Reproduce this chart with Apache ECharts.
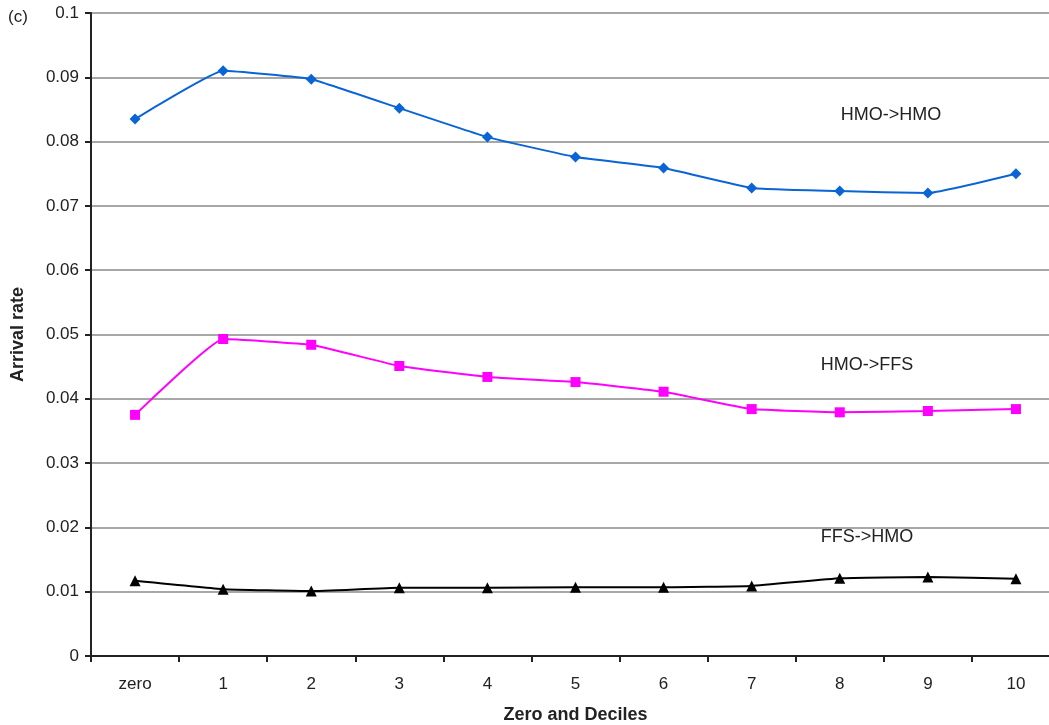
<!DOCTYPE html>
<html>
<head>
<meta charset="utf-8">
<script src="https://cdn.jsdelivr.net/npm/echarts@6/dist/echarts.min.js"></script>
<style>
  html, body { margin: 0; padding: 0; background: #fff; }
  #chart { width: 1049px; height: 725px; }
</style>
</head>
<body>
<div id="chart"></div>
<script>
// Arrival rates by decile group
const categories = ['zero', '1', '2', '3', '4', '5', '6', '7', '8', '9', '10'];
const hmoToHmo = [0.0835, 0.0910, 0.0897, 0.0852, 0.0807, 0.0776, 0.0759, 0.0728, 0.0723, 0.0720, 0.0750];
const hmoToFfs = [0.0375, 0.0493, 0.0484, 0.0451, 0.0434, 0.0426, 0.0411, 0.0384, 0.0379, 0.0381, 0.0384];
const ffsToHmo = [0.0117, 0.0104, 0.0101, 0.0106, 0.0106, 0.0107, 0.0107, 0.0109, 0.0121, 0.0123, 0.0120];
const yTicks = { min: 0, max: 0.1, interval: 0.01 };

const font = 'Liberation Sans, Arial, sans-serif';
const chart = echarts.init(document.getElementById('chart'));

// Series name is written as a text tag next to its curve
function lineSeries(name, data, color, symbol, size, tagX, tagY) {
  return {
    name: name,
    type: 'line',
    data: data,
    smooth: 0.1,
    symbol: symbol,
    symbolSize: size,
    itemStyle: { color: color },
    lineStyle: { color: color, width: 2 },
    z: 3,
    markPoint: {
      symbol: 'rect',
      symbolSize: 1,
      itemStyle: { color: 'rgba(0,0,0,0)' },
      data: [{ x: tagX, y: tagY, name: name }],
      label: {
        show: true, position: 'inside', color: '#222',
        fontSize: 18, fontFamily: font, formatter: name
      }
    }
  };
}

chart.setOption({
  animation: false,
  backgroundColor: '#fff',
  // the plot runs past the right edge of the canvas
  grid: { left: 91, right: -11, top: 13, bottom: 69, outerBoundsMode: 'none', containLabel: false },
  graphic: [{
    type: 'text', left: 8, top: 9,
    style: { text: '(c)', fontSize: 17, fontFamily: font, fill: '#222' }
  }],
  xAxis: {
    type: 'category',
    data: categories,
    boundaryGap: true,
    name: 'Zero and Deciles',
    nameLocation: 'middle',
    nameGap: 50,
    nameTextStyle: { fontSize: 18, fontWeight: 'bold', fontFamily: font, color: '#222' },
    axisLine: { lineStyle: { color: '#222', width: 2 } },
    axisTick: { show: true, alignWithLabel: false, length: 6, lineStyle: { color: '#222', width: 2 } },
    axisLabel: { fontSize: 17, fontFamily: font, color: '#222', margin: 20 },
    splitLine: { show: false }
  },
  yAxis: {
    type: 'value',
    min: yTicks.min, max: yTicks.max, interval: yTicks.interval,
    name: 'Arrival rate',
    nameLocation: 'middle',
    nameGap: 64,
    nameTextStyle: { fontSize: 18, fontWeight: 'bold', fontFamily: font, color: '#222' },
    axisLine: { show: true, lineStyle: { color: '#222', width: 2 } },
    axisTick: { show: true, length: 6, lineStyle: { color: '#222', width: 2 } },
    axisLabel: {
      fontSize: 17, fontFamily: font, color: '#222', margin: 12,
      formatter: v => (Math.round(v * 100) / 100).toString()
    },
    splitLine: { show: true, lineStyle: { color: '#8a8a8a', width: 1.5 } }
  },
  series: [
    lineSeries('HMO->HMO', hmoToHmo, '#0a64d6', 'diamond', 11, 891, 115),
    lineSeries('HMO->FFS', hmoToFfs, '#ff00ff', 'rect', 10, 867, 365),
    lineSeries('FFS->HMO', ffsToHmo, '#000000', 'triangle', 11, 867, 537)
  ]
});
</script>
</body>
</html>
